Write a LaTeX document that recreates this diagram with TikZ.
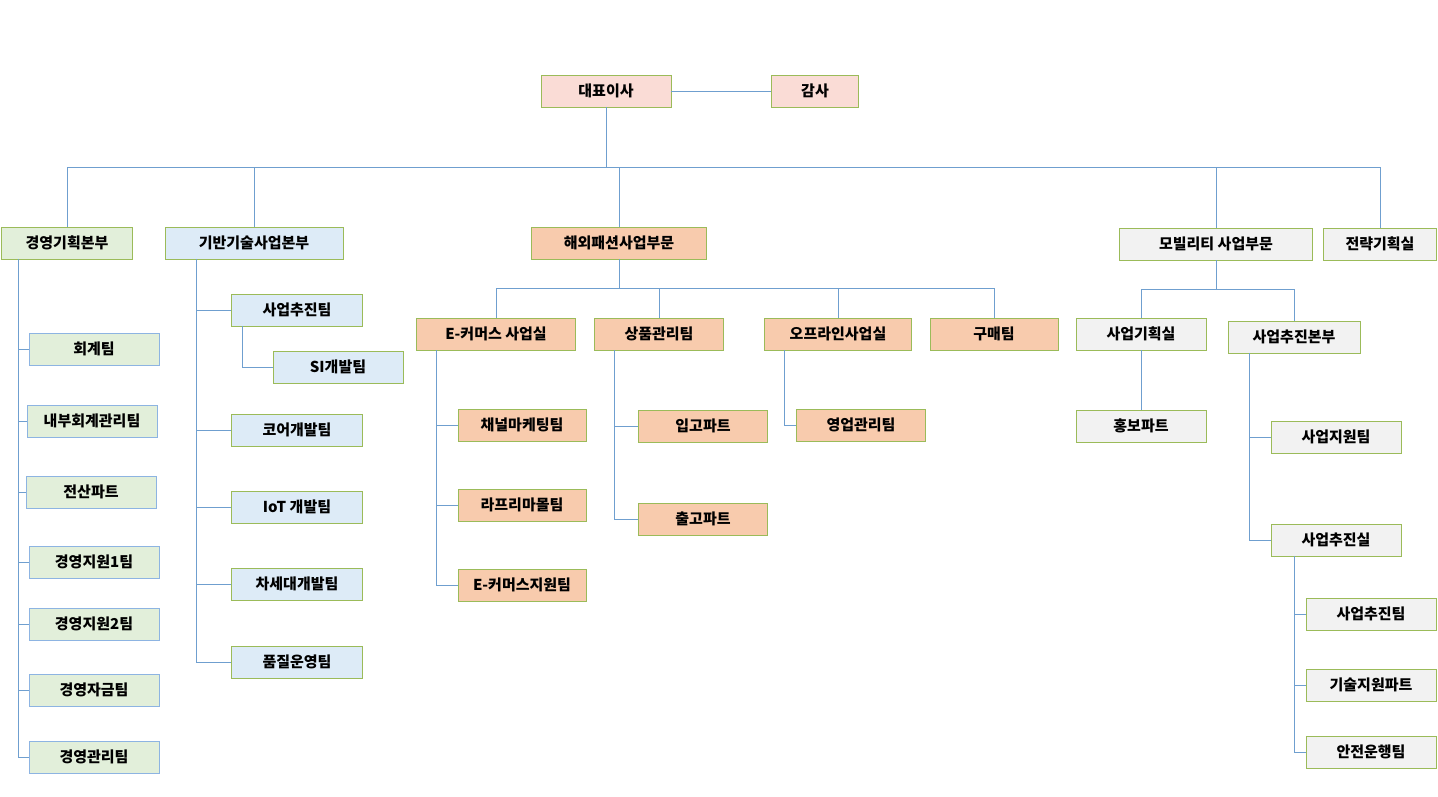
\documentclass[tikz,border=0pt]{standalone}
\usepackage{fontspec}
\setmainfont{Noto Sans CJK KR}
\definecolor{cline}{HTML}{6F9FCF}
\definecolor{cgreenb}{HTML}{9BBB59}
\definecolor{cblueb}{HTML}{8DB4E2}
\definecolor{cpink}{HTML}{FADCD6}
\definecolor{cgreen}{HTML}{E2EFDA}
\definecolor{cblue}{HTML}{DDEBF7}
\definecolor{corange}{HTML}{F8CBAD}
\definecolor{cgrey}{HTML}{F2F2F2}
\tikzset{
  box/.style={draw=cgreenb, thick, minimum height=32pt, inner sep=0pt,
              font=\fontsize{15}{18}\selectfont\bfseries},
  pbox/.style={box, fill=cpink},
  gbox/.style={box, fill=cgreen},
  gcbox/.style={box, fill=cgreen, draw=cblueb},
  bbox/.style={box, fill=cblue},
  obox/.style={box, fill=corange},
  ybox/.style={box, fill=cgrey},
  link/.style={cline, semithick},
}
\begin{document}
\begin{tikzpicture}[x=1pt, y=-1pt]
\useasboundingbox (0,0) rectangle (1438,797);

% top
\node [pbox, minimum width=130] (ceo) at (606,91) {대표이사};
\node [pbox, minimum width=87] (audit) at (815,91) {감사};
\draw [link] (ceo) -- (audit);

% divisions
\node [gbox, minimum width=131] (mgmt) at (67,243) {경영기획본부};
\node [bbox, minimum width=178] (tech) at (254,243) {기반기술사업본부};
\node [obox, minimum width=175] (fash) at (619,243) {해외패션사업부문};
\node [ybox, minimum width=193] (mob) at (1216,244) {모빌리티 사업부문};
\node [ybox, minimum width=113] (strat) at (1380,244) {전략기획실};

\draw [link] (ceo.south) -- ++(0,60) coordinate (hub);
\foreach \d in {mgmt, tech, fash, mob, strat}
    \draw [link] (hub) -| (\d.north);

% 경영기획본부
\node [gcbox, minimum width=130] (m1) at (94,349) {회계팀};
\node [gcbox, minimum width=130] (m2) at (92,421) {내부회계관리팀};
\node [gcbox, minimum width=130] (m3) at (91,492) {전산파트};
\node [gcbox, minimum width=130] (m4) at (94,562) {경영지원1팀};
\node [gcbox, minimum width=130] (m5) at (94,624) {경영지원2팀};
\node [gcbox, minimum width=130] (m6) at (94,690) {경영자금팀};
\node [gcbox, minimum width=130] (m7) at (94,757) {경영관리팀};
\foreach \c in {m1, m2, m3, m4, m5, m6, m7}
    \draw [link] (mgmt.south west) ++(17,0) |- (\c.west);

% 기반기술사업본부
\node [bbox, minimum width=131] (t1) at (297,310) {사업추진팀};
\node [bbox, minimum width=130] (t2) at (338,367) {SI개발팀};
\node [bbox, minimum width=131] (t3) at (297,430) {코어개발팀};
\node [bbox, minimum width=131] (t4) at (297,507) {IoT 개발팀};
\node [bbox, minimum width=131] (t5) at (297,584) {차세대개발팀};
\node [bbox, minimum width=131] (t6) at (297,662) {품질운영팀};
\foreach \c in {t1, t3, t4, t5, t6}
    \draw [link] (tech.south west) ++(32,0) |- (\c.west);
\draw [link] (t1.south west) ++(11,0) |- (t2.west);

% 해외패션사업부문
\node [obox, minimum width=159] (ecom) at (496,334) {E-커머스 사업실};
\node [obox, minimum width=129] (prod) at (659,334) {상품관리팀};
\node [obox, minimum width=147] (off) at (838,334) {오프라인사업실};
\node [obox, minimum width=128] (buy) at (994,334) {구매팀};
\draw [link] (fash.south) -- ++(0,29) coordinate (fhub);
\foreach \c in {ecom, prod, off, buy}
    \draw [link] (fhub) -| (\c.north);

\node [obox, minimum width=128] (e1) at (522,425) {채널마케팅팀};
\node [obox, minimum width=128] (e2) at (522,505) {라프리마몰팀};
\node [obox, minimum width=128] (e3) at (522,585) {E-커머스지원팀};
\foreach \c in {e1, e2, e3}
    \draw [link] (ecom.south west) ++(20,0) |- (\c.west);
\node [obox, minimum width=129] (p1) at (703,426) {입고파트};
\node [obox, minimum width=129] (p2) at (703,519) {출고파트};
\foreach \c in {p1, p2}
    \draw [link] (prod.south west) ++(20,0) |- (\c.west);
\node [obox, minimum width=129] (o1) at (861,425) {영업관리팀};
\draw [link] (off.south west) ++(20,0) |- (o1.west);

% 모빌리티 사업부문
\node [ybox, minimum width=130] (plan) at (1141,334) {사업기획실};
\node [ybox, minimum width=132] (push) at (1294,337) {사업추진본부};
\draw [link] (mob.south) -- ++(0,29) coordinate (mhub);
\foreach \c in {plan, push}
    \draw [link] (mhub) -| (\c.north);
\node [ybox, minimum width=130] (pr) at (1141,426) {홍보파트};
\draw [link] (plan) -- (pr);
\node [ybox, minimum width=130] (u1) at (1336,437) {사업지원팀};
\node [ybox, minimum width=130] (u2) at (1336,540) {사업추진실};
\foreach \c in {u1, u2}
    \draw [link] (push.south west) ++(22,0) |- (\c.west);
\node [ybox, minimum width=130] (v1) at (1371,614) {사업추진팀};
\node [ybox, minimum width=130] (v2) at (1371,685) {기술지원파트};
\node [ybox, minimum width=130] (v3) at (1371,752) {안전운행팀};
\foreach \c in {v1, v2, v3}
    \draw [link] (u2.south west) ++(24,0) |- (\c.west);
\end{tikzpicture}
\end{document}
